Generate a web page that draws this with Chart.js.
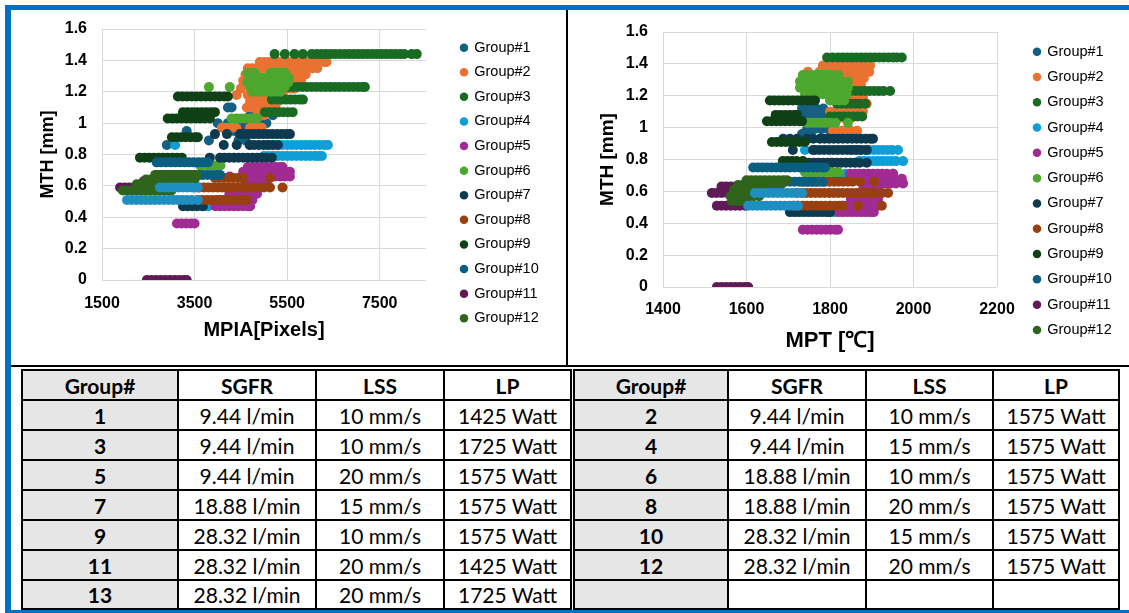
<!DOCTYPE html>
<html><head><meta charset="utf-8">
<script src="https://cdn.jsdelivr.net/npm/chart.js@4.4.1/dist/chart.umd.min.js"></script>
<style>
html,body{margin:0;padding:0;background:#fff;}
body{width:1129px;height:613px;position:relative;overflow:hidden;font-family:"Liberation Sans",Arial,sans-serif;}
#frame{position:absolute;left:5px;top:5px;width:1118px;height:600px;border-left:6px solid #0070C0;border-top:5px solid #0070C0;border-bottom:3px solid #0070C0;}
.ln{position:absolute;background:#000;}
canvas{position:absolute;}
.cell{position:absolute;display:flex;align-items:center;justify-content:center;font-family:Lato,"Open Sans",sans-serif;font-size:21px;color:#000;box-sizing:border-box;}
.cell.gray{background:#E7E6E6;}
.cell.b{font-weight:bold;}
</style>
</head>
<body>
<div id="frame"></div>
<canvas id="c1" width="554" height="356" style="left:12px;top:10px"></canvas>
<canvas id="c2" width="556" height="356" style="left:568px;top:10px"></canvas>
<div id="tables"></div>
<div class="ln" style="left:566px;top:10px;width:2px;height:357px"></div>
<div class="ln" style="left:11px;top:365px;width:1118px;height:2px"></div>
<script>
// ---------------- DATA ----------------
const GROUP_NAMES = ['Group#1','Group#2','Group#3','Group#4','Group#5','Group#6','Group#7','Group#8','Group#9','Group#10','Group#11','Group#12','Group#13'];
const MTH_TICKS = [0, 0.2, 0.4, 0.6, 0.8, 1, 1.2, 1.4, 1.6];
const MPIA_TICKS = [1500, 3500, 5500, 7500];
const MPT_TICKS = [1400, 1600, 1800, 2000, 2200];

// each row: [MTH, MPIA values ...]
const MPIA_G1 = [
 [1.10, 4220, 4300, 4780, 4900, 4950],
 [1.05, 4700, 5000, 5190],
 [1.00, 4000, 4220, 4450, 4600, 4750, 4900, 5050],
 [0.95, 3330, 4350, 4500, 4650],
 [0.89, 3810, 4450, 4600],
 [0.86, 2900, 4700]
];
const MPIA_G2 = [
 [1.39, 4910, 5010, 5110, 5210, 5310, 5410, 5510, 5610, 5710, 5810, 5910, 6010, 6110, 6210, 6300, 6350],
 [1.35, 4650, 4750, 4850, 4950, 5050, 5150, 5250, 5350, 5450, 5550, 5650, 5750, 5850, 5950, 6050, 6150],
 [1.31, 4600, 4700, 4800, 5450, 5550, 5650, 5750, 5850, 5900],
 [1.27, 4550, 4650, 5500, 5600, 5700, 5800],
 [1.22, 4500, 5500, 5600, 5650],
 [1.18, 4410, 4650, 4750, 4850, 4950, 5050, 5150, 5250, 5350, 5400],
 [1.14, 4700, 4800, 4900, 5000, 5100, 5200, 5300],
 [1.10, 4630, 4730, 4830, 4930, 5030, 5130, 5250],
 [1.05, 4850, 4950, 5000],
 [0.97, 4090, 4190, 4290, 4400, 4700, 4800, 4900, 4950]
];
const MPIA_G3 = [
 [1.44, 5230, 5450, 5660, 5840, 6030, 6140, 6240, 6340, 6440, 6540, 6640, 6740, 6840, 6940, 7040, 7140, 7240, 7340, 7440, 7540, 7640, 7740, 7840, 7940, 8030, 8190, 8300],
 [1.23, 5230, 5330, 5430, 5530, 5630, 5730, 5830, 5930, 6030, 6130, 6230, 6330, 6430, 6530, 6630, 6730, 6830, 6930, 7030, 7120, 7180],
 [1.15, 5170, 5270, 5370, 5470, 5570, 5670, 5770, 5840],
 [1.07, 5020, 5120, 5220, 5320, 5420, 5520, 5620]
];
const MPIA_G4 = [
 [0.86, 3080, 5000, 5100, 5200, 5300, 5400, 5500, 5600, 5700, 5800, 5900, 6000, 6100, 6200, 6300, 6380],
 [0.79, 5000, 5100, 5200, 5300, 5400, 5500, 5600, 5700, 5800, 5900, 6000, 6100, 6170, 6250],
 [0.47, 3650, 3750, 3800]
];
const MPIA_G5 = [
 [0.72, 4650, 4750, 4850, 4950, 5050, 5150, 5250, 5350, 5400],
 [0.69, 4550, 4650, 4750, 4850, 4950, 5050, 5150, 5250, 5350, 5450, 5560],
 [0.66, 4260, 4550, 4650, 4750, 4850, 4950, 5050, 5150, 5250, 5350, 5450, 5560],
 [0.63, 4600, 4700, 4800, 4900, 5000, 5050],
 [0.55, 4250, 4350, 4450, 4550, 4650, 4750, 4850],
 [0.51, 4000, 4100, 4200, 4300, 4400, 4500, 4600, 4700, 4750],
 [0.47, 3950, 4050, 4150, 4250, 4350, 4450, 4550, 4650, 4700],
 [0.36, 3120, 3220, 3320, 3420, 3500]
];
const MPIA_G6 = [
 [1.32, 4640, 4740, 4800, 5150, 5250, 5350, 5450],
 [1.29, 4700, 4800, 4900, 5000, 5100, 5200, 5300, 5400, 5500, 5530],
 [1.26, 4640, 4740, 4840, 4940, 5040, 5140, 5240, 5340, 5440, 5530],
 [1.23, 3810, 4260, 4700, 4800, 4900, 5000, 5100, 5200, 5300, 5400, 5450],
 [1.20, 4750, 4850, 4950, 5050, 5150, 5250, 5350],
 [1.03, 4300, 4400, 4500, 4600, 4700, 4800, 4850],
 [0.73, 3620, 3720, 3820, 3920, 4000, 4060]
];
const MPIA_G7 = [
 [0.93, 3940, 4200, 4480, 4580, 4680, 4780, 4880, 4980, 5080, 5180, 5280, 5380, 5480, 5560],
 [0.86, 4130, 4410, 4690, 4790, 4890, 4990, 5090, 5190, 5300],
 [0.78, 3830, 4050, 4150, 4250, 4350, 4450, 4550, 4650, 4750, 4850, 4950, 5050, 5170],
 [0.67, 3600],
 [0.47, 3250, 3350, 3450, 3550, 3680]
];
const MPIA_G8 = [
 [0.65, 3940, 4040, 4140, 4240, 4340, 4440, 4540, 5130],
 [0.59, 3500, 3600, 3700, 3800, 3900, 4000, 4100, 4200, 4300, 4400, 4500, 4600, 4700, 4800, 4900, 5000, 5130, 5400],
 [0.51, 3570, 3670, 3770, 3870, 3970, 4070, 4170, 4270, 4370, 4470, 4570, 4630]
];
const MPIA_G9 = [
 [1.17, 3140, 3240, 3340, 3440, 3540, 3640, 3740, 3840, 3940, 4040, 4140, 4220],
 [1.07, 3250, 3350, 3450, 3550, 3650, 3750, 3850, 3940],
 [1.03, 2920, 3020, 3120, 3220, 3320, 3420, 3520, 3620, 3720, 3830],
 [0.91, 3010, 3110, 3210, 3310, 3410, 3510, 3570],
 [0.78, 2320, 2420, 2520, 2620, 2720, 2820, 2920, 3020, 3120, 3225]
];
const MPIA_G10 = [
 [0.75, 2680, 2780, 2880, 2980, 3080, 3180, 3280, 3380, 3480, 3580, 3680, 3790],
 [0.67, 2680, 2780, 2880, 2980, 3080, 3180, 3280, 3380, 3480, 3580, 3680, 3780, 3880, 3980, 4050]
];
const MPIA_G11 = [
 [0, 2470, 2570, 2670, 2770, 2870, 2970, 3070, 3170, 3270, 3330],
 [0.63, 2400, 2500],
 [0.59, 1890, 1990, 2090, 2190, 2290, 2320]
];
const MPIA_G12 = [
 [0.67, 2650, 2750, 2850, 2950, 3050, 3150, 3250, 3350, 3450, 3550],
 [0.64, 2450, 2550, 2650, 2750, 2850, 2950, 3050, 3150, 3250, 3350, 3450, 3500],
 [0.61, 2250, 2350, 2450, 2550, 2650, 2750, 2850, 2950, 3050, 3150, 3250, 3350, 3450],
 [0.57, 1950, 2050, 2150, 2250, 2350, 2450, 2550, 2650, 2750, 2850, 2950, 3000]
];
const MPIA_G13 = [
 [0.59, 2750, 2850, 2950, 3050, 3150, 3250, 3350, 3450, 3570],
 [0.51, 2040, 2140, 2240, 2340, 2440, 2540, 2640, 2740, 2840, 2940, 3040, 3140, 3240, 3340, 3440, 3570]
];

// each row: [MTH, MPT values ...]
const MPT_G1 = [
 [1.12, 1733, 1750, 1767, 1784],
 [1.09, 1733, 1750, 1767, 1784, 1795],
 [1.06, 1740, 1757, 1774, 1791],
 [0.99, 1745, 1762, 1779, 1796],
 [0.96, 1733, 1750]
];
const MPT_G2 = [
 [1.39, 1783, 1794, 1805, 1816, 1827, 1838, 1849, 1860, 1871, 1882, 1893, 1896],
 [1.35, 1747, 1775, 1786, 1797, 1808, 1819, 1830, 1841, 1852, 1863, 1874, 1885, 1894],
 [1.31, 1830, 1841, 1852, 1863, 1874, 1881],
 [1.27, 1840, 1851, 1862, 1874],
 [1.19, 1845, 1856, 1867, 1879],
 [1.15, 1830, 1841, 1852, 1864, 1888],
 [1.10, 1800, 1811, 1822, 1833, 1844, 1855, 1866, 1879],
 [1.06, 1800, 1811, 1822, 1833, 1844, 1851],
 [0.98, 1807, 1818, 1829, 1840, 1851, 1865]
];
const MPT_G3 = [
 [1.44, 1793, 1806, 1819, 1830, 1841, 1852, 1863, 1874, 1885, 1896, 1907, 1918, 1929, 1940, 1951, 1960, 1972],
 [1.23, 1840, 1851, 1862, 1873, 1884, 1895, 1906, 1917, 1928, 1944],
 [1.15, 1817, 1828, 1839, 1850, 1861, 1872, 1885],
 [1.07, 1800, 1811, 1822, 1833, 1844, 1855, 1866, 1877]
];
const MPT_G4 = [
 [0.86, 1740, 1850, 1861, 1872, 1883, 1894, 1905, 1916, 1927, 1938, 1949, 1963],
 [0.79, 1870, 1881, 1892, 1903, 1914, 1925, 1936, 1947, 1958, 1975],
 [0.71, 1820, 1837, 1951],
 [0.47, 1800, 1810]
];
const MPT_G5 = [
 [0.71, 1848, 1859, 1870, 1881, 1892, 1903, 1914, 1925, 1936, 1951],
 [0.68, 1850, 1861, 1872, 1883, 1894, 1905, 1916, 1927, 1938, 1952, 1972],
 [0.65, 1890, 1901, 1912, 1923, 1934, 1945, 1958, 1975],
 [0.62, 1880, 1891, 1902, 1914],
 [0.55, 1850, 1861, 1872, 1883, 1894, 1905, 1915],
 [0.51, 1830, 1841, 1852, 1863, 1874, 1885, 1896, 1915],
 [0.47, 1820, 1831, 1842, 1853, 1864, 1875, 1886, 1897, 1905],
 [0.36, 1735, 1746, 1757, 1768, 1779, 1790, 1801, 1812, 1819]
];
const MPT_G6 = [
 [1.33, 1735, 1746, 1757, 1768, 1779, 1790, 1801, 1812, 1820],
 [1.29, 1728, 1739, 1750, 1761, 1772, 1783, 1794, 1805, 1816, 1827, 1843],
 [1.25, 1728, 1739, 1750, 1761, 1772, 1783, 1794, 1805, 1816, 1827, 1843],
 [1.21, 1740, 1751, 1762, 1773, 1784, 1795, 1806, 1817, 1828, 1840],
 [1.17, 1800, 1811, 1822, 1834],
 [1.03, 1745, 1756, 1767, 1778, 1789, 1800, 1813, 1843],
 [0.72, 1740, 1751, 1762, 1773, 1784, 1795, 1806, 1820]
];
const MPT_G7 = [
 [0.93, 1688, 1704, 1721, 1745, 1760, 1776, 1787, 1798, 1809, 1820, 1831, 1842, 1853, 1864, 1875, 1886, 1897, 1903],
 [0.86, 1711, 1759, 1764, 1775, 1786, 1797, 1808, 1819, 1830, 1841, 1852, 1863, 1874, 1888],
 [0.78, 1728, 1739, 1750, 1761, 1772, 1783, 1794, 1805, 1816, 1827, 1838, 1849, 1860, 1871, 1888],
 [0.47, 1704, 1715, 1726, 1737, 1748, 1759, 1770, 1781, 1792, 1800]
];
const MPT_G8 = [
 [0.66, 1733, 1744, 1755, 1766, 1777, 1788, 1799, 1810, 1821, 1832, 1843, 1854, 1872, 1907],
 [0.59, 1721, 1732, 1743, 1754, 1765, 1776, 1787, 1798, 1809, 1820, 1831, 1842, 1853, 1864, 1875, 1886, 1897, 1908, 1925, 1939],
 [0.51, 1712, 1723, 1734, 1745, 1756, 1767, 1778, 1789, 1800, 1811, 1822, 1831, 1867, 1924]
];
const MPT_G9 = [
 [1.17, 1656, 1667, 1678, 1689, 1700, 1711, 1722, 1733, 1744, 1755, 1764],
 [1.08, 1670, 1681, 1692, 1703, 1714, 1721],
 [1.04, 1649, 1660, 1671, 1682, 1693, 1704, 1715, 1726, 1733],
 [0.91, 1661, 1672, 1683, 1694, 1705, 1716, 1727, 1740],
 [0.79, 1687, 1698, 1709, 1720, 1735]
];
const MPT_G10 = [
 [0.75, 1616, 1627, 1638, 1649, 1660, 1671, 1682, 1693, 1704, 1715, 1726, 1737, 1748, 1759, 1770, 1781, 1788],
 [0.66, 1649, 1660, 1671, 1682, 1693, 1704, 1715, 1726, 1737, 1748, 1759, 1770, 1783]
];
const MPT_G11 = [
 [0, 1529, 1540, 1551, 1562, 1573, 1584, 1595, 1604],
 [0.63, 1540, 1551, 1562, 1574],
 [0.59, 1517, 1528, 1540, 1553],
 [0.51, 1529, 1540, 1551, 1562, 1573, 1584, 1597]
];
const MPT_G12 = [
 [0.67, 1600, 1611, 1622, 1633, 1644, 1655, 1666, 1677, 1688, 1697],
 [0.64, 1580, 1591, 1602, 1613, 1624, 1635, 1646, 1657, 1668, 1682],
 [0.61, 1570, 1581, 1592, 1603, 1614, 1625, 1636, 1647, 1655],
 [0.57, 1562, 1573, 1584, 1595, 1606, 1617, 1630],
 [0.54, 1565, 1576, 1587, 1599]
];
const MPT_G13 = [
 [0.59, 1620, 1631, 1642, 1653, 1664, 1675, 1686, 1697, 1708, 1719, 1733],
 [0.51, 1604, 1615, 1626, 1637, 1648, 1659, 1670, 1681, 1692, 1703, 1714, 1723]
];

const TABLE_HEAD = ['Group#', 'SGFR', 'LSS', 'LP'];
const TABLE_LEFT = [
 ['1', '9.44 l/min', '10 mm/s', '1425 Watt'],
 ['3', '9.44 l/min', '10 mm/s', '1725 Watt'],
 ['5', '9.44 l/min', '20 mm/s', '1575 Watt'],
 ['7', '18.88 l/min', '15 mm/s', '1575 Watt'],
 ['9', '28.32 l/min', '10 mm/s', '1575 Watt'],
 ['11', '28.32 l/min', '20 mm/s', '1425 Watt'],
 ['13', '28.32 l/min', '20 mm/s', '1725 Watt']
];
const TABLE_RIGHT = [
 ['2', '9.44 l/min', '10 mm/s', '1575 Watt'],
 ['4', '9.44 l/min', '15 mm/s', '1575 Watt'],
 ['6', '18.88 l/min', '10 mm/s', '1575 Watt'],
 ['8', '18.88 l/min', '20 mm/s', '1575 Watt'],
 ['10', '28.32 l/min', '15 mm/s', '1575 Watt'],
 ['12', '28.32 l/min', '20 mm/s', '1575 Watt'],
 ['', '', '', '']
];

// ---------------- STYLE ----------------
const GROUP_COLORS = ['#156082','#E97132','#196B24','#0F9ED5','#A02B93','#4EA72E','#0D3A4E','#994011','#0F4016','#095F80','#601A58','#2F641C','#1F8EC0'];
const FONT = '"Liberation Sans", Arial, sans-serif';

function toPoints(rows) {
  const pts = [];
  rows.forEach(r => { for (let i = 1; i < r.length; i++) pts.push({x: r[i], y: r[0]}); });
  return pts;
}

const legendPlace = {
  id: 'legendPlace',
  afterLayout(chart, args, opts) {
    const lg = chart.legend;
    if (!lg) return;
    const dx = opts.left - lg.left, dy = opts.top - lg.top;
    lg.left += dx; lg.right += dx; lg.top += dy; lg.bottom += dy;
  }
};

function buildChart(id, c) {
  const datasets = c.series.map((rows, i) => ({
    label: GROUP_NAMES[i],
    data: toPoints(rows),
    backgroundColor: GROUP_COLORS[i],
    borderColor: GROUP_COLORS[i],
    pointRadius: 5,
    pointHoverRadius: 5,
    pointBorderWidth: 0,
    order: c.series.length - i
  }));
  return new Chart(document.getElementById(id), {
    type: 'scatter',
    data: {datasets},
    options: {
      responsive: false, animation: false, devicePixelRatio: 1,
      events: [],
      layout: {padding: {top: c.padTop, left: 0, right: 0, bottom: 0}},
      plugins: {
        legend: {
          position: 'right', align: 'start',
          labels: {
            usePointStyle: true, pointStyle: 'circle', boxWidth: 6, boxHeight: 6,
            padding: c.legPad, color: '#000',
            font: {family: FONT, size: 14.5},
            filter: item => item.datasetIndex < 12,
            sort: (a, b) => a.datasetIndex - b.datasetIndex
          }
        },
        tooltip: {enabled: false},
        legendPlace: {left: c.legLeft, top: c.legTop}
      },
      scales: {
        x: {
          type: 'linear', min: c.xMin, max: c.xMax,
          afterBuildTicks: s => { s.ticks = c.xTicks.map(v => ({value: v})); },
          afterFit: s => { s.height = c.xH; s.paddingRight = c.padRight; },
          grid: {color: '#D9D9D9', lineWidth: 1, drawTicks: false},
          border: {display: false},
          ticks: {padding: c.xTickPad, color: '#000', autoSkip: false, maxRotation: 0,
                  font: {family: FONT, size: 16, weight: 'bold'}, callback: v => String(v)},
          title: {display: true, text: c.xTitle, color: '#000',
                  font: {family: FONT, size: c.xTitleSize, weight: 'bold'},
                  padding: {top: 0, bottom: c.xTitlePad}}
        },
        y: {
          type: 'linear', min: 0, max: 1.6,
          afterBuildTicks: s => { s.ticks = MTH_TICKS.map(v => ({value: v})); },
          afterFit: s => { s.width = c.yW; s.paddingTop = 0; s.paddingBottom = 0; },
          grid: {color: '#D9D9D9', lineWidth: 1, drawTicks: false},
          border: {display: false},
          ticks: {padding: 15, color: '#000', autoSkip: false,
                  font: {family: FONT, size: 16, weight: 'bold'}, callback: v => String(v)},
          title: {display: true, text: 'MTH [mm]', color: '#000',
                  font: {family: FONT, size: c.yTitleSize, weight: 'bold'},
                  padding: {top: c.yTitlePad, bottom: 0}}
        }
      }
    },
    plugins: [legendPlace]
  });
}

buildChart('c1', {
  series: [MPIA_G1, MPIA_G2, MPIA_G3, MPIA_G4, MPIA_G5, MPIA_G6, MPIA_G7, MPIA_G8, MPIA_G9, MPIA_G10, MPIA_G11, MPIA_G12, MPIA_G13],
  xMin: 1500, xMax: 8500, xTicks: MPIA_TICKS, xTitle: 'MPIA[Pixels]',
  padTop: 19, xH: 86, padRight: 140, yW: 90,
  xTickPad: 14, xTitleSize: 20, xTitlePad: 24,
  yTitleSize: 18, yTitlePad: 25,
  legPad: 10.1, legLeft: 438.9, legTop: 20.3
});
buildChart('c2', {
  series: [MPT_G1, MPT_G2, MPT_G3, MPT_G4, MPT_G5, MPT_G6, MPT_G7, MPT_G8, MPT_G9, MPT_G10, MPT_G11, MPT_G12, MPT_G13],
  xMin: 1400, xMax: 2200, xTicks: MPT_TICKS, xTitle: 'MPT [\u2103]',
  padTop: 22, xH: 79, padRight: 127, yW: 95,
  xTickPad: 13, xTitleSize: 22, xTitlePad: 12,
  yTitleSize: 19, yTitlePad: 28,
  legPad: 10.8, legLeft: 455.2, legTop: 23.6
});

// ---------------- TABLES ----------------
function drawTable(cols, rows, head, body) {
  const host = document.getElementById('tables');
  const all = [head].concat(body);
  for (let r = 0; r < rows.length - 1; r++) {
    for (let c = 0; c < cols.length - 1; c++) {
      const d = document.createElement('div');
      d.className = 'cell' + (c === 0 ? ' gray' : '') + ((r === 0 || c === 0) ? ' b' : '');
      d.style.left = cols[c] + 'px';
      d.style.top = rows[r] + 'px';
      d.style.width = (cols[c + 1] - cols[c]) + 'px';
      d.style.height = (rows[r + 1] - rows[r]) + 'px';
      d.textContent = all[r][c];
      host.appendChild(d);
    }
  }
  const mk = (l, t, w, h) => {
    const e = document.createElement('div');
    e.className = 'ln';
    e.style.left = l + 'px'; e.style.top = t + 'px'; e.style.width = w + 'px'; e.style.height = h + 'px';
    host.appendChild(e);
  };
  const top = rows[0], bot = rows[rows.length - 1], lft = cols[0], rgt = cols[cols.length - 1];
  cols.forEach(x => mk(x - 1, top - 1, 2, bot - top + 2));
  rows.forEach(y => mk(lft - 1, y - 1, rgt - lft + 2, 2));
}
const ROW_EDGES = [370, 400, 430, 460, 490, 520, 550, 580, 609];
drawTable([22, 178, 316, 444, 571], ROW_EDGES, TABLE_HEAD, TABLE_LEFT);
drawTable([574, 728, 866, 993, 1119], ROW_EDGES, TABLE_HEAD, TABLE_RIGHT);
</script>
</body></html>
